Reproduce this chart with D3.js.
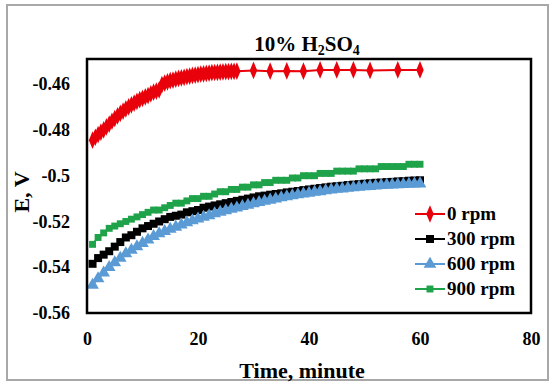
<!DOCTYPE html>
<html>
<head>
<meta charset="utf-8">
<script src="https://cdn.jsdelivr.net/npm/d3@7"></script>
<style>
  body { margin: 0; background: #fff; }
</style>
</head>
<body>
<svg id="chart" width="553" height="385"></svg>
<script>
// readings (time in minutes, E in volts)
const rpm0Time = [1,1.5,2,2.5,3,3.5,4,4.5,5,5.5,6,6.5,7,7.5,8,8.5,9,9.5,10,10.5,11,11.5,12,12.5,13,13.5,
  14,14.5,15,15.5,16,16.5,17,17.5,18,18.5,19,19.5,20,20.5,21,21.5,22,22.5,23,23.5,24,24.5,25,25.5,26,26.5,27,
  30,33,36,39,42,45,48,51,56,60];
const rpm0 = [-0.4845,-0.4832,-0.482,-0.481,-0.480,-0.4787,-0.4775,-0.4762,-0.475,-0.4739,-0.4728,-0.4718,-0.4708,
  -0.4699,-0.469,-0.4683,-0.4675,-0.4668,-0.4662,-0.4656,-0.465,-0.4642,-0.4635,-0.463,-0.4625,-0.4602,
  -0.4595,-0.4590,-0.4585,-0.4582,-0.4578,-0.4575,-0.4572,-0.4570,-0.4567,-0.4565,-0.4562,-0.4560,-0.4558,-0.4556,
  -0.4555,-0.4553,-0.4552,-0.4550,-0.4549,-0.4548,-0.4547,-0.4546,-0.4545,-0.4545,-0.4544,-0.4544,-0.4543,
  -0.4540,-0.4543,-0.4542,-0.4543,-0.4538,-0.4538,-0.4538,-0.4540,-0.4538,-0.4538];

const minutes = d3.range(1, 61); // 1..60, one reading a minute
const rpm300 = [-0.5385,-0.536,-0.5345,-0.533,-0.531,-0.529,-0.527,-0.526,-0.5245,-0.523,-0.522,-0.521,-0.520,-0.519,-0.518,
  -0.5175,-0.517,-0.516,-0.5155,-0.515,-0.514,-0.5135,-0.513,-0.5125,-0.512,-0.5115,-0.511,-0.5105,-0.510,-0.5095,
  -0.509,-0.5087,-0.5083,-0.508,-0.5077,-0.5073,-0.507,-0.5067,-0.5063,-0.506,-0.5057,-0.5054,-0.5051,-0.5048,-0.5046,
  -0.5044,-0.5041,-0.5039,-0.5037,-0.5035,-0.5033,-0.5031,-0.503,-0.5028,-0.5027,-0.5025,-0.5024,-0.5022,-0.5021,-0.502];
const rpm600 = [-0.5478,-0.545,-0.5425,-0.540,-0.538,-0.536,-0.534,-0.5325,-0.531,-0.5295,-0.528,-0.5265,-0.5253,-0.5243,-0.5233,
  -0.5224,-0.5215,-0.5205,-0.5196,-0.5189,-0.5181,-0.5174,-0.5166,-0.5159,-0.5152,-0.5146,-0.514,-0.5134,-0.5128,-0.5122,
  -0.5116,-0.5111,-0.5106,-0.5101,-0.5096,-0.5091,-0.5087,-0.5083,-0.5079,-0.5076,-0.5072,-0.5069,-0.5065,-0.5062,-0.5059,
  -0.5057,-0.5054,-0.5052,-0.505,-0.5048,-0.5046,-0.5044,-0.5042,-0.5041,-0.504,-0.5039,-0.5038,-0.5037,-0.5036,-0.5035];
const rpm900 = [-0.530,-0.527,-0.525,-0.523,-0.522,-0.521,-0.520,-0.519,-0.518,-0.517,-0.516,-0.515,-0.515,-0.514,-0.513,
  -0.512,-0.512,-0.511,-0.510,-0.510,-0.509,-0.509,-0.508,-0.507,-0.507,-0.506,-0.506,-0.505,-0.505,-0.504,
  -0.504,-0.503,-0.503,-0.502,-0.502,-0.502,-0.501,-0.501,-0.500,-0.500,-0.500,-0.499,-0.499,-0.499,-0.498,
  -0.498,-0.498,-0.498,-0.497,-0.497,-0.497,-0.497,-0.496,-0.496,-0.496,-0.496,-0.496,-0.495,-0.495,-0.495];

const seriesNames = ["0 rpm", "300 rpm", "600 rpm", "900 rpm"];
const xTicks = [0, 20, 40, 60, 80];
const yTicks = [-0.46, -0.48, -0.5, -0.52, -0.54, -0.56];

const serif = "'Liberation Serif', 'Times New Roman', 'DejaVu Serif', serif";

const series = [
  { name: seriesNames[0], t: rpm0Time, v: rpm0, color: "#e8000b", symbol: d3.symbolDiamond, size: 75, stretch: 0.8 },
  { name: seriesNames[1], t: minutes, v: rpm300, color: "#000000", symbol: d3.symbolSquare, size: 64 },
  { name: seriesNames[2], t: minutes, v: rpm600, color: "#5b9bd5", symbol: d3.symbolTriangle, size: 70 },
  { name: seriesNames[3], t: minutes, v: rpm900, color: "#1fa34a", symbol: d3.symbolSquare, size: 48 }
];

const svg = d3.select("#chart");
const plot = { left: 87, right: 531, top: 59, bottom: 313 };

const x = d3.scaleLinear().domain([0, 80]).range([plot.left, plot.right]);
const y = d3.scaleLinear().domain([-0.56, -0.449]).range([plot.bottom, plot.top]);

const styleText = sel => sel
  .attr("font-family", serif)
  .style("font-family", serif)
  .style("font-weight", "bold")
  .attr("fill", "#000");

// outer chart border
svg.append("rect")
  .attr("x", 7).attr("y", 5).attr("width", 541).attr("height", 375)
  .attr("fill", "none").attr("stroke", "#a8a8a8").attr("stroke-width", 2);

// title with subscripts
const title = svg.append("text")
  .attr("x", 307).attr("y", 51).attr("text-anchor", "middle")
  .attr("font-size", 21)
  .call(styleText);
title.append("tspan").text("10% H");
title.append("tspan").attr("dy", 4).attr("font-size", 14).text("2");
title.append("tspan").attr("dy", -4).text("SO");
title.append("tspan").attr("dy", 4).attr("font-size", 14).text("4");

// axes (labels only, Excel style)
const xAxis = svg.append("g")
  .attr("transform", `translate(0,${plot.bottom + 16})`)
  .call(d3.axisBottom(x).tickValues(xTicks).tickSize(0).tickFormat(d3.format("d")));
xAxis.select(".domain").remove();
xAxis.attr("font-family", serif);
xAxis.selectAll("text").attr("font-size", 18).call(styleText);

const yAxis = svg.append("g")
  .attr("transform", `translate(${plot.left - 14},0)`)
  .call(d3.axisLeft(y).tickValues(yTicks).tickSize(0).tickFormat(d => String(+d.toFixed(2))));
yAxis.select(".domain").remove();
yAxis.attr("font-family", serif);
yAxis.selectAll("text").attr("font-size", 18).call(styleText);

svg.append("text")
  .attr("x", 302).attr("y", 378)
  .attr("text-anchor", "middle").attr("font-size", 22)
  .text("Time, minute")
  .call(styleText);

svg.append("text")
  .attr("transform", `translate(29,192) rotate(-90)`)
  .attr("text-anchor", "middle").attr("font-size", 22)
  .text("E, V")
  .call(styleText);

// series: lines then markers
const line = d3.line().x(d => x(d[0])).y(d => y(d[1]));
const symbolPath = s => d3.symbol().type(s.symbol).size(s.size)();
const markTransform = (px, py, s) =>
  `translate(${px},${py})` + (s.stretch ? ` scale(${s.stretch},1.1)` : "");

series.forEach(s => {
  const pts = s.t.map((t, i) => [t, s.v[i]]);
  svg.append("path")
    .datum(pts)
    .attr("fill", "none")
    .attr("stroke", s.color)
    .attr("stroke-width", 2)
    .attr("d", line);
  svg.append("g").selectAll("path")
    .data(pts)
    .join("path")
    .attr("transform", d => markTransform(x(d[0]), y(d[1]), s))
    .attr("d", symbolPath(s))
    .attr("fill", s.color);
});

// plot frame
svg.append("rect")
  .attr("x", plot.left).attr("y", plot.top)
  .attr("width", plot.right - plot.left).attr("height", plot.bottom - plot.top)
  .attr("fill", "none").attr("stroke", "#000").attr("stroke-width", 2.5);

// legend
const legend = svg.append("g");
series.forEach((s, i) => {
  const ly = 214 + i * 25;
  legend.append("line")
    .attr("x1", 415).attr("x2", 445).attr("y1", ly).attr("y2", ly)
    .attr("stroke", s.color).attr("stroke-width", 2);
  legend.append("path")
    .attr("transform", markTransform(430, ly, s))
    .attr("d", symbolPath(s))
    .attr("fill", s.color);
  legend.append("text")
    .attr("x", 447).attr("y", ly + 6)
    .attr("font-size", 19)
    .text(s.name)
    .call(styleText);
});
</script>
</body>
</html>
